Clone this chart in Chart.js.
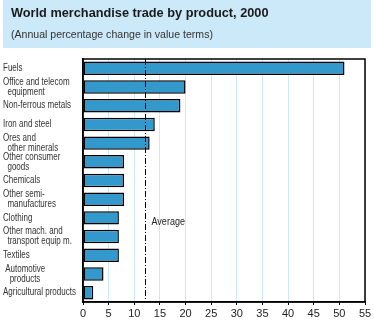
<!DOCTYPE html>
<html>
<head>
<meta charset="utf-8">
<script src="https://cdn.jsdelivr.net/npm/chart.js@4/dist/chart.umd.min.js"></script>
<style>
  html, body { margin: 0; padding: 0; background: #fff; }
  #wrap { position: relative; width: 374px; height: 330px; }
</style>
</head>
<body>
<div id="wrap"><canvas id="tradeChart" width="374" height="330"></canvas></div>
<script>
// product groups, top to bottom
const products = [
  ['Fuels'],
  ['Office and telecom', '  equipment'],
  ['Non-ferrous metals'],
  ['Iron and steel'],
  ['Ores and', '  other minerals'],
  ['Other consumer', '  goods'],
  ['Chemicals'],
  ['Other semi-', '  manufactures'],
  ['Clothing'],
  ['Other mach. and', '  transport equip m.'],
  ['Textiles'],
  [' Automotive', '   products'],
  ['Agricultural products']
];
// annual % change in value terms
const changePct = [51, 20, 19, 14, 13, 8, 8, 8, 7, 7, 7, 4, 2];
const averagePct = 12;
const xTicks = [0, 5, 10, 15, 20, 25, 30, 35, 40, 45, 50, 55];

const sans = '"Liberation Sans", Arial, sans-serif';

// draw text squeezed horizontally to get a condensed look
function condensed(ctx, text, x, y, squeeze) {
  ctx.save();
  ctx.translate(x, y);
  ctx.scale(squeeze, 1);
  ctx.fillText(text, 0, 0);
  ctx.restore();
}

// header band, category labels, plot frame and the dash-dot average marker
const decorations = {
  id: 'decorations',
  beforeDraw(chart) {
    const ctx = chart.ctx;
    ctx.save();
    ctx.fillStyle = '#cce9f9';
    ctx.fillRect(3, 0, 368, 48);
    ctx.fillStyle = '#1a1a1a';
    ctx.textBaseline = 'alphabetic';
    ctx.font = 'bold 13px ' + sans;
    condensed(ctx, 'World merchandise trade by product, 2000', 11, 17, 0.98);
    ctx.font = '11px ' + sans;
    ctx.fillStyle = '#333';
    condensed(ctx, '(Annual percentage change in value terms)', 11, 38, 0.96);
    ctx.restore();
  },
  afterDatasetsDraw(chart) {
    const ctx = chart.ctx;
    const a = chart.chartArea;
    const yScale = chart.scales.y;
    const x = Math.round(chart.scales.x.getPixelForValue(averagePct)) + 0.5;
    ctx.save();
    ctx.strokeStyle = '#000';
    ctx.lineWidth = 1;
    ctx.setLineDash([6, 2, 1, 2]);
    ctx.beginPath();
    ctx.moveTo(x, a.top);
    ctx.lineTo(x, a.bottom);
    ctx.stroke();
    ctx.setLineDash([]);
    ctx.lineWidth = 1.5;
    ctx.strokeRect(a.left, a.top, a.right - a.left, a.bottom - a.top);

    ctx.fillStyle = '#222';
    ctx.textBaseline = 'middle';
    ctx.font = '11px ' + sans;
    condensed(ctx, 'Average', x + 6, yScale.getPixelForValue(8) + 4, 0.82);

    ctx.fillStyle = '#333';
    ctx.font = '10px ' + sans;
    products.forEach((lines, i) => {
      const cy = yScale.getPixelForValue(i);
      const y0 = cy - (lines.length - 1) * 5;
      lines.forEach((t, j) => condensed(ctx, t, 3, y0 + j * 10, 0.8));
    });
    ctx.restore();
  }
};

new Chart(document.getElementById('tradeChart'), {
  type: 'bar',
  data: {
    labels: products,
    datasets: [{
      data: changePct,
      backgroundColor: '#3399cc',
      borderColor: '#000',
      borderWidth: 1.5,
      borderSkipped: false,
      barPercentage: 0.72,
      categoryPercentage: 1
    }]
  },
  options: {
    indexAxis: 'y',
    responsive: false,
    animation: false,
    layout: { padding: { left: 3, top: 59, right: 9, bottom: 0 } },
    plugins: { legend: { display: false }, tooltip: { enabled: false } },
    scales: {
      x: {
        min: 0,
        max: 55,
        afterBuildTicks(scale) { scale.ticks = xTicks.map(v => ({ value: v })); },
        afterFit(scale) { scale.height = 28; },
        grid: { color: '#cde9f7', lineWidth: 1, drawTicks: true, tickLength: 3, tickColor: '#000' },
        border: { color: '#000', width: 1.5 },
        ticks: { autoSkip: false, maxRotation: 0, color: '#222', font: { family: sans, size: 11 }, padding: 2 }
      },
      y: {
        afterFit(scale) { scale.width = 80; },
        grid: { display: false },
        border: { color: '#000', width: 1.5 },
        ticks: { display: false }
      }
    }
  },
  plugins: [decorations]
});
</script>
</body>
</html>
